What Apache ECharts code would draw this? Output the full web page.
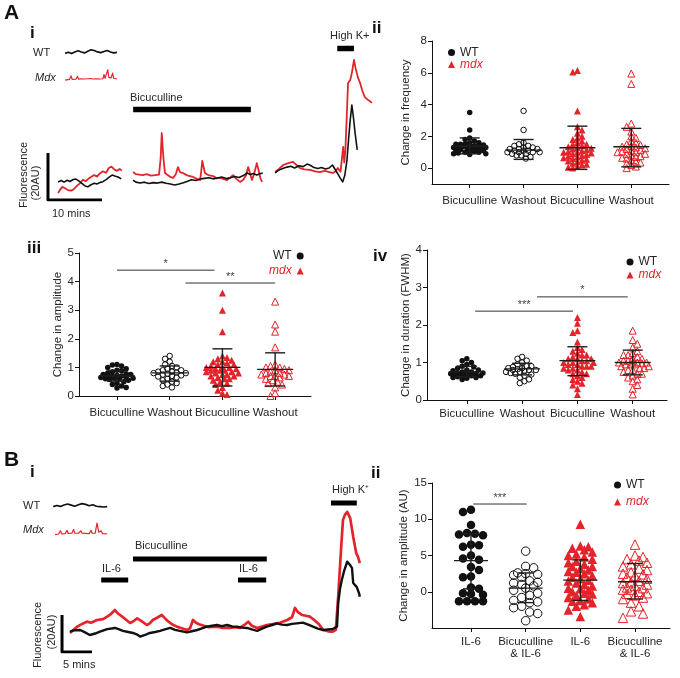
<!DOCTYPE html>
<html><head><meta charset="utf-8">
<script src="https://cdn.jsdelivr.net/npm/echarts@6/dist/echarts.min.js"></script>
<style>html,body{margin:0;padding:0;background:#fff}#c{width:680px;height:678px}</style>
</head><body><div id="c"></div>
<script>
const RED = '#e3242b', INK = '#111111', TXT = '#262626';
const FONT = "'Liberation Sans', Arial, sans-serif";

// ---------- Panel A-i traces: [time (min), fluorescence (AU)] ----------
const aiBlack1 = [[0.2,7.7],[0.8,8.3],[1.3,7.6],[1.9,8.4],[2.4,7.9],[3.0,8.7],[3.5,8.9],[4.1,8.0],[4.6,7.1],[5.2,6.0],[5.7,5.6],[6.3,6.5],[6.9,7.1],[7.4,6.8],[8.0,7.5],[8.5,7.8],[9.1,8.7],[9.6,9.6],[10.2,10.6],[10.7,10.2],[11.3,9.8],[11.9,9.0]];
const aiRed1 = [[0.2,3.0],[0.6,4.5],[1.0,5.6],[1.5,5.0],[2.0,4.2],[2.6,4.0],[3.1,4.6],[3.7,6.0],[4.3,7.2],[4.8,8.6],[5.3,8.0],[5.8,9.0],[6.3,9.8],[6.9,10.6],[7.4,10.0],[8.0,11.4],[8.5,12.2],[9.1,11.6],[9.6,13.6],[10.1,14.2],[10.6,13.0],[11.1,12.4],[11.6,13.2],[12.0,12.6]];
const aiBlack2 = [[14.1,8.5],[14.6,7.6],[15.4,7.2],[16.2,7.6],[17.0,7.0],[17.8,7.4],[18.6,7.2],[19.4,7.6],[20.2,7.1],[21.0,6.8],[21.8,6.4],[22.6,6.8],[23.4,7.3],[24.2,8.0],[24.9,8.6],[25.7,8.3],[26.5,8.9],[27.3,9.2],[28.1,9.5],[28.9,9.0],[29.7,9.4],[30.5,9.8],[31.3,9.1],[32.1,9.5],[32.9,10.0],[33.7,9.6],[34.5,10.4],[35.2,11.5],[35.8,10.8],[36.4,11.3],[37.0,10.6],[37.6,11.2],[38.1,11.5]];
const aiRed2 = [[14.1,11.9],[14.6,11.0],[15.2,10.8],[15.9,10.6],[16.6,11.0],[17.4,10.4],[18.2,10.6],[18.9,10.8],[19.2,18.0],[19.4,28.5],[19.7,18.0],[20.0,11.5],[20.5,10.6],[21.0,9.8],[21.5,9.4],[22.0,11.0],[22.4,14.0],[22.8,11.8],[23.3,11.5],[24.0,10.6],[24.6,10.2],[25.2,9.8],[25.9,9.0],[26.5,8.5],[26.7,12.0],[26.9,16.6],[27.2,13.5],[27.4,11.5],[28.0,10.6],[28.9,10.2],[29.6,9.2],[30.2,9.4],[30.9,8.9],[31.5,8.5],[32.1,9.6],[32.6,10.6],[33.2,9.0],[33.9,7.7],[34.5,8.6],[35.0,10.5],[35.4,14.0],[35.8,11.0],[36.1,8.5],[36.5,11.0],[37.0,15.7],[37.4,12.0],[37.7,9.0],[38.0,7.7]];
const aiBlack3 = [[40.4,11.5],[41.0,12.6],[41.8,13.4],[42.6,14.0],[43.3,14.4],[44.0,13.6],[44.8,14.6],[45.6,14.2],[46.3,15.3],[46.9,14.8],[47.6,13.8],[48.3,13.4],[49.0,13.8],[49.7,13.2],[50.4,13.6],[51.0,14.9],[51.4,13.4],[51.9,11.5],[52.4,9.5],[52.9,7.7],[53.3,10.5],[53.7,17.0],[54.0,26.0],[54.3,34.0],[54.6,40.4],[54.9,35.0],[55.2,28.5],[55.6,21.3]];
const aiRed3 = [[40.4,11.9],[41.0,13.0],[41.9,14.9],[42.7,15.6],[43.7,16.2],[44.4,14.8],[45.0,13.6],[45.8,13.0],[46.9,12.8],[47.8,12.2],[48.7,11.9],[49.6,12.4],[50.6,11.8],[51.1,11.5],[51.6,12.2],[52.0,13.6],[52.5,12.0],[52.8,12.4],[53.0,22.6],[53.2,16.0],[53.4,21.0],[53.7,38.0],[53.9,49.8],[54.3,51.0],[54.6,54.0],[55.0,59.6],[55.3,56.0],[55.7,52.3],[56.1,50.0],[56.5,46.8],[57.0,43.8],[57.3,44.5],[57.6,42.6],[58.0,42.0],[58.3,41.3]];
const aiWTSample = [[1.5,62.4],[2.1,62.9],[2.7,62.3],[3.3,63.0],[3.9,63.5],[4.5,63.0],[5.1,62.6],[5.7,63.3],[6.3,63.9],[6.9,63.6],[7.5,63.0],[8.1,62.7],[8.7,63.2],[9.3,63.6],[9.9,63.0],[10.5,62.6],[11.1,62.8]];
const aiMdxSample = [[1.5,51.0],[2.3,51.3],[2.6,52.8],[2.8,51.3],[3.5,51.4],[3.8,52.6],[4.0,51.4],[4.6,51.6],[4.8,52.4],[5.0,51.5],[5.7,51.6],[6.3,51.7],[6.5,52.3],[6.7,51.5],[7.4,51.6],[8.0,51.5],[8.5,51.6],[8.7,53.4],[8.9,51.8],[9.2,51.9],[9.4,55.4],[9.6,52.2],[10.0,51.9],[10.3,54.0],[10.5,51.8],[11.1,51.5]];
const aiBicBar = [[14.1,38.5],[35.9,38.5]];
const aiHighKBar = [[51.9,64.5],[55.0,64.5]];
const aiScaleBar = [[-1.67,20],[-1.67,0],[8.33,0]];   // 20 AU, 10 min

// ---------- Panel B-i traces ----------
const biBlack = [[0,11.0],[0.8,11.8],[1.7,11.9],[2.5,10.6],[3.3,9.2],[4.2,10.0],[5.0,11.0],[6.2,12.4],[7.5,13.0],[8.2,12.2],[8.8,11.4],[9.7,10.8],[10.5,10.3],[11.2,9.4],[11.7,8.3],[12.5,9.2],[13.3,10.3],[14.2,10.8],[15.0,11.4],[15.8,12.2],[16.7,13.0],[17.5,12.0],[18.3,11.4],[19.5,10.6],[20.3,11.2],[21.2,11.9],[22.0,12.8],[22.8,13.7],[23.7,14.2],[24.5,14.6],[25.3,14.0],[26.2,14.6],[27.0,13.8],[27.8,13.7],[28.7,13.2],[29.5,13.0],[30.3,12.2],[31.2,11.4],[32.0,12.6],[32.8,13.7],[33.7,14.6],[34.5,15.5],[35.3,14.8],[36.2,14.6],[37.0,15.2],[37.8,15.5],[38.8,15.9],[39.7,14.8],[40.5,13.7],[41.3,12.6],[42.2,11.9],[43.0,12.2],[43.8,12.4],[44.5,13.7],[44.7,26.5],[45.0,34.0],[45.3,38.9],[45.7,44.0],[46.2,48.8],[46.7,47.0],[47.0,45.4],[47.2,37.3],[47.5,37.8],[47.8,35.1],[48.2,31.5],[48.3,29.9]];
const biRed = [[0,10.3],[0.6,12.0],[1.2,13.7],[1.8,14.8],[2.8,16.4],[3.5,15.8],[4.5,17.3],[5.5,17.8],[6.2,19.1],[6.8,20.5],[7.5,22.7],[8.0,20.8],[8.7,19.1],[9.3,17.6],[10.0,15.7],[10.5,16.5],[11.2,18.2],[11.8,17.0],[12.3,15.8],[12.8,14.6],[13.3,15.5],[13.8,17.3],[14.5,18.5],[15.3,20.0],[15.8,18.3],[16.2,17.0],[17.0,15.0],[17.8,13.7],[18.5,13.0],[19.5,11.9],[20.0,12.8],[20.5,17.3],[21.0,15.8],[21.5,15.0],[22.3,14.2],[23.0,13.5],[24.5,13.7],[25.5,13.0],[26.7,13.0],[27.5,13.4],[28.3,13.0],[29.0,14.5],[29.7,16.4],[30.3,14.2],[31.2,13.0],[32.0,13.8],[32.8,14.6],[34.0,15.2],[35.0,15.8],[36.2,17.3],[37.0,18.8],[37.5,23.8],[38.0,21.5],[38.7,20.0],[39.3,19.6],[40.0,19.1],[40.8,17.0],[41.5,15.0],[42.2,11.9],[43.0,11.2],[43.8,11.0],[44.3,12.0],[44.7,29.9],[45.2,56.9],[45.5,71.4],[45.8,74.0],[46.2,75.8],[46.7,72.4],[47.2,62.3],[47.7,53.5],[48.0,51.5],[48.3,48.1]];
const biWTSample = [[-2.8,78.6],[-2.2,79.2],[-1.6,78.7],[-1.0,79.5],[-0.4,80.0],[0.2,79.4],[0.8,78.8],[1.4,79.6],[2.0,80.2],[2.6,79.8],[3.2,79.1],[3.8,79.6],[4.4,78.8],[5.0,78.6],[5.6,78.4],[6.2,78.6]];
const biMdxSample = [[-2.5,63.5],[-1.9,63.8],[-1.6,65.6],[-1.4,63.9],[-0.8,64.0],[-0.5,65.8],[-0.3,64.1],[0.3,64.2],[0.6,66.2],[0.8,64.3],[1.4,64.2],[1.8,65.5],[2.0,64.3],[2.6,64.1],[3.2,64.0],[3.5,65.8],[3.7,64.2],[4.2,64.3],[4.5,69.7],[4.8,64.8],[5.2,65.5],[5.4,64.0],[6.2,63.8]];
const biBicBar = [[10.5,50.3],[32.8,50.3]];
const biIL6Bar1 = [[5.2,38.9],[9.7,38.9]];
const biIL6Bar2 = [[28.0,38.9],[32.7,38.9]];
const biHighKBar = [[43.5,80.5],[47.8,80.5]];
const biScaleBar = [[-1.33,20],[-1.33,0],[3.67,0]];   // 20 AU, 5 min

// ---------- Scatter panels ----------
const catA = ['Bicuculline','Washout','Bicuculline','Washout'];
const catB = ['IL-6','Bicuculline\n& IL-6','IL-6','Bicuculline\n& IL-6'];

const freqWTBic = [3.5,2.4,1.9,1.8,1.7,1.6,1.6,1.5,1.5,1.5,1.45,1.4,1.4,1.4,1.35,1.3,1.3,1.3,1.25,1.2,1.2,1.2,1.15,1.1,1.1,1.1,1.05,1.0,1.0,0.95,0.9,0.9,0.85];
const freqWTWash = [3.6,2.4,1.6,1.5,1.4,1.3,1.3,1.2,1.2,1.1,1.1,1.1,1.0,1.0,1.0,0.9,0.9,0.8,0.8,0.7,0.6,1.2,1.4,1.0];
const freqMdxBic = [6.15,6.05,3.6,2.6,2.4,2.2,2.0,1.9,1.8,1.7,1.6,1.5,1.4,1.35,1.3,1.25,1.2,1.1,1.0,1.0,0.95,0.9,0.85,0.8,0.75,0.7,0.6,0.55,0.5,0.4,0.3,0.25,0.2,0.1,0.05,0.0,1.5,1.15,0.65,1.05,0.45];
const freqMdxWash = [5.95,5.3,2.8,2.6,2.3,2.0,1.9,1.7,1.6,1.5,1.4,1.35,1.3,1.2,1.15,1.1,1.0,1.0,0.9,0.9,0.8,0.7,0.65,0.6,0.5,0.4,0.35,0.3,0.2,0.1,0.0,1.05,1.25,0.75,1.45];
const freqStats = [[1.38,0.9,1.9],[1.13,0.55,1.8],[1.28,-0.08,2.64],[1.34,0.08,2.5]];  // mean, low, high

const ampWTBic = [1.1,1.08,1.05,1.0,0.95,0.9,0.88,0.85,0.8,0.78,0.75,0.72,0.7,0.7,0.68,0.65,0.65,0.62,0.6,0.6,0.58,0.55,0.5,0.45,0.4,0.35,0.3,0.28,0.75,0.62];
const ampWTWash = [1.4,1.3,1.2,1.1,1.05,1.0,0.95,0.9,0.85,0.82,0.8,0.78,0.75,0.72,0.7,0.68,0.65,0.6,0.55,0.5,0.45,0.4,0.35,0.3,0.8,0.85,0.9];
const ampMdxBic = [3.6,3.0,2.25,1.4,1.35,1.3,1.25,1.2,1.15,1.1,1.05,1.0,1.0,0.95,0.9,0.9,0.85,0.85,0.8,0.8,0.75,0.7,0.7,0.65,0.6,0.55,0.5,0.45,0.4,0.3,0.2,0.1,0.05,1.1,0.95,0.75,1.2,0.6,0.9,1.0];
const ampMdxWash = [3.3,2.5,2.25,1.7,1.1,1.05,1.0,1.0,0.95,0.9,0.85,0.8,0.75,0.7,0.7,0.7,0.65,0.6,0.55,0.5,0.45,0.4,0.3,0.1,0.0,0.8,0.9,0.75];
const ampStats = [[0.7,0.52,0.88],[0.81,0.52,1.05],[1.0,0.35,1.65],[0.93,0.35,1.51]];
const ampSig = [[0,1.85,4.4],[1.3,3.0,3.95]];
const ampSigText = ['*','**'];

const durWTBic = [1.1,1.05,1.0,0.95,0.9,0.88,0.85,0.8,0.78,0.75,0.72,0.7,0.7,0.68,0.68,0.65,0.65,0.62,0.6,0.6,0.58,0.55,0.75,0.72,0.7,0.8,0.65];
const durWTWash = [1.15,1.1,1.05,1.0,0.95,0.9,0.88,0.85,0.82,0.8,0.8,0.78,0.75,0.72,0.7,0.68,0.65,0.6,0.55,0.5,0.45,0.8,0.85,0.75,0.9];
const durMdxBic = [2.2,2.05,1.85,1.8,1.55,1.4,1.35,1.3,1.25,1.2,1.15,1.1,1.1,1.05,1.0,1.0,0.95,0.95,0.9,0.9,0.85,0.85,0.8,0.75,0.7,0.65,0.6,0.55,0.5,0.45,0.4,0.3,0.15,1.0,1.2,0.9,1.05,0.8,1.1,0.7];
const durMdxWash = [1.85,1.6,1.5,1.4,1.3,1.25,1.2,1.15,1.1,1.05,1.0,1.0,1.0,0.98,0.95,0.95,0.9,0.9,0.85,0.8,0.75,0.7,0.65,0.6,0.55,0.5,0.4,0.3,0.15,1.05,0.95,1.1,0.85,1.0,1.2,0.7,0.8];
const durStats = [[0.75,0.62,0.9],[0.83,0.67,0.98],[1.05,0.65,1.42],[1.0,0.67,1.33]];
const durSig = [[0.15,1.92,2.37],[1.27,2.91,2.75]];
const durSigText = ['***','*'];

const il6WT = [11.3,11.0,9.2,8.0,7.9,8.1,7.8,6.5,6.2,6.4,5.0,4.6,4.4,3.4,2.1,2.0,0.6,0.4,-0.3,-0.2,-0.4,-1.3,-1.3,-1.3,-1.3,3.0];
const il6WTBic = [5.6,3.5,3.3,2.6,2.5,2.4,2.3,2.0,1.5,1.3,1.2,1.0,0.8,0.5,0.2,-0.2,-0.5,-0.8,-1.2,-1.4,-1.5,-2.0,-2.2,-2.8,-3.0,-4.0];
const il6Mdx = [9.3,6.3,6.2,6.0,5.8,5.5,5.2,4.8,4.5,4.2,4.0,3.8,3.5,3.2,3.0,2.8,2.5,2.2,2.0,1.8,1.5,1.2,1.0,0.8,0.5,0.2,0.0,-0.2,-0.5,-0.8,-1.0,-1.2,-1.3,-1.5,-1.8,-2.0,-2.5,-3.4,1.6,3.5,0.4,-0.3,2.7,5.0];
const il6MdxBic = [6.5,5.0,4.8,4.5,4.3,4.0,3.8,3.5,3.2,3.0,2.7,2.5,2.2,2.0,1.8,1.5,1.2,1.0,0.8,0.5,0.3,0.0,-0.2,-0.5,-0.8,-1.0,-1.5,-2.0,-2.7,-3.0,-3.6,0.3,1.3,-0.3,2.4,0.6];
const il6Stats = [[4.3,0.4,8.0],[0.5,-1.5,2.6],[1.6,-1.2,4.4],[1.38,-1.0,3.9]];
const il6Sig = [[0.04,1.02,12.1]];
const il6SigText = ['***'];

// ---------- layout ----------
const G = [
  {left:46.2, top:35.5, width:334.8, height:164.5, x:[-2,60], y:[0,70]},
  {left:432, top:41, width:237, height:143, x:[-0.7,3.7], y:[-1,8]},
  {left:79, top:253, width:232, height:143, x:[-0.72,3.68], y:[0,5]},
  {left:427, top:250, width:240, height:150, x:[-0.72,3.62], y:[0,4]},
  {left:52, top:480, width:318, height:172, x:[-3,50], y:[0,93]},
  {left:432, top:483, width:238, height:145, x:[-0.713,3.64], y:[-5,15]}
];

function swarm(vals, pxX, pxY, d, maxW){
  const order = vals.map((v,i)=>i).sort((a,b)=>vals[b]-vals[a]);
  const placed = []; const out = new Array(vals.length);
  const step = d/2; let flip = 1;
  for (const i of order){
    const y = vals[i]*pxY;
    let best = null, fb = 0, fbScore = -1;
    for (let k=0; k*step<=maxW && best===null; k++){
      const cands = k===0 ? [0] : [flip*k*step, -flip*k*step];
      for (const s of cands){
        let m = Infinity;
        for (const p of placed){ const dd = Math.hypot(p[0]-s, p[1]-y); if (dd<m) m=dd; }
        if (m >= d){ best = s; break; }
        if (m > fbScore){ fbScore = m; fb = s; }
      }
    }
    if (best===null) best = fb;
    flip = -flip;
    placed.push([best,y]);
    out[i] = best/pxX;
  }
  return out;
}

const styles = [
  {symbol:'circle', color:INK, border:INK, bw:0, legend:'WT'},
  {symbol:'circle', color:'rgba(255,255,255,0)', border:INK, bw:1},
  {symbol:'triangle', color:RED, border:RED, bw:0, legend:'mdx'},
  {symbol:'triangle', color:'rgba(255,255,255,0)', border:RED, bw:1}
];

const panels = [
  {gi:1, sets:[freqWTBic,freqWTWash,freqMdxBic,freqMdxWash], stats:freqStats, cats:catA, yt:[0,2,4,6,8], name:'Change in frequency', gap:20, lm:11, big:false},
  {gi:2, sets:[ampWTBic,ampWTWash,ampMdxBic,ampMdxWash], stats:ampStats, cats:catA, yt:[0,1,2,3,4,5], name:'Change in amplitude', gap:14, lm:11, big:false, sig:ampSig, sigT:ampSigText},
  {gi:3, sets:[durWTBic,durWTWash,durMdxBic,durMdxWash], stats:durStats, cats:catA, yt:[0,1,2,3,4], name:'Change in duration (FWHM)', gap:14, lm:8, big:false, sig:durSig, sigT:durSigText},
  {gi:5, sets:[il6WT,il6WTBic,il6Mdx,il6MdxBic], stats:il6Stats, cats:catB, yt:[0,5,10,15], name:'Change in amplitude (AU)', gap:20, lm:8, big:true, sig:il6Sig, sigT:il6SigText}
];

const grid = G.map(g=>({left:g.left, top:g.top, width:g.width, height:g.height}));
const xAxis = [], yAxis = [];
G.forEach((g,i)=>{
  xAxis.push({type:'value', gridIndex:i, min:g.x[0], max:g.x[1], show:false});
  yAxis.push({type:'value', gridIndex:i, min:g.y[0], max:g.y[1], show:false});
});
const axisLine = {show:true, onZero:false, lineStyle:{color:INK, width:1}};
panels.forEach(p=>{
  const g = G[p.gi];
  xAxis[p.gi] = {type:'value', gridIndex:p.gi, min:g.x[0], max:g.x[1], splitLine:{show:false}, axisLine,
    axisTick:{show:true, customValues:[0,1,2,3], length:4, lineStyle:{color:INK}},
    axisLabel:{customValues:[0,1,2,3], formatter:v=>p.cats[Math.round(v)], color:TXT, fontSize:11.5, fontFamily:FONT, margin:p.lm, lineHeight:12}};
  yAxis[p.gi] = {type:'value', gridIndex:p.gi, min:g.y[0], max:g.y[1], splitLine:{show:false}, axisLine,
    axisTick:{show:true, customValues:p.yt, length:4, lineStyle:{color:INK}},
    axisLabel:{customValues:p.yt, color:TXT, fontSize:11.5, fontFamily:FONT, margin:5},
    name:p.name, nameLocation:'middle', nameGap:p.gap, nameTextStyle:{color:TXT, fontSize:11.5, fontFamily:FONT}};
});

const series = [];
function line(gi, data, color, width){
  series.push({type:'line', xAxisIndex:gi, yAxisIndex:gi, data, symbol:'none', silent:true,
    lineStyle:{color, width, join:'round'}, z:2});
}
// A-i
[aiRed1,aiRed2,aiRed3].forEach(d=>line(0,d,RED,1.8));
[aiBlack1,aiBlack2,aiBlack3].forEach(d=>line(0,d,INK,1.6));
line(0,aiWTSample,INK,1.7); line(0,aiMdxSample,RED,1.2);
line(0,aiBicBar,'#000',5.5); line(0,aiHighKBar,'#000',5.5);
line(0,aiScaleBar,'#000',3);
// B-i
line(4,biRed,RED,2.7); line(4,biBlack,INK,2.4);
line(4,biWTSample,INK,1.7); line(4,biMdxSample,RED,1.2);
[biBicBar,biIL6Bar1,biIL6Bar2,biHighKBar].forEach(d=>line(4,d,'#000',5));
line(4,biScaleBar,'#000',3);

// scatter panels
const legends = [];
panels.forEach((p,pi)=>{
  const g = G[p.gi];
  const pxX = g.width/(g.x[1]-g.x[0]), pxY = g.height/(g.y[1]-g.y[0]);
  const d = p.big ? 8 : 4.6, maxW = p.big ? 15 : 17;
  p.sets.forEach((vals,k)=>{
    const st = styles[k];
    const off = swarm(vals, pxX, pxY, d, maxW);
    const size = st.symbol==='circle' ? (p.big?8.5:5.5) : (p.big?9.5:7);
    series.push({type:'scatter', name: st.legend ? st.legend+'|'+pi : undefined,
      xAxisIndex:p.gi, yAxisIndex:p.gi, symbol:st.symbol, symbolSize:size, silent:true,
      data: vals.map((v,j)=>[k+off[j], v]),
      itemStyle:{color:st.color, borderColor:st.border, borderWidth:st.bw, opacity:1}, z:3});
  });
  const W = p.big?17:18, C = p.big?8:10;
  series.push({type:'custom', xAxisIndex:p.gi, yAxisIndex:p.gi, silent:true, z:5,
    data: p.stats.map((s,i)=>[i,s[0],s[1],s[2]]),
    renderItem(params, api){
      const x = api.value(0);
      const m = api.coord([x,api.value(1)]), lo = api.coord([x,api.value(2)]), hi = api.coord([x,api.value(3)]);
      const style = {stroke:'#1e1e1e', lineWidth:1.4};
      return {type:'group', children:[
        {type:'line', shape:{x1:m[0]-W,y1:m[1],x2:m[0]+W,y2:m[1]}, style},
        {type:'line', shape:{x1:lo[0],y1:lo[1],x2:hi[0],y2:hi[1]}, style},
        {type:'line', shape:{x1:lo[0]-C,y1:lo[1],x2:lo[0]+C,y2:lo[1]}, style},
        {type:'line', shape:{x1:hi[0]-C,y1:hi[1],x2:hi[0]+C,y2:hi[1]}, style}]};
    }});
  if (p.sig){
    series.push({type:'custom', xAxisIndex:p.gi, yAxisIndex:p.gi, silent:true, z:4,
      data: p.sig, encode:{x:[0,1], y:2},
      renderItem(params, api){
        const a = api.coord([api.value(0), api.value(2)]), b = api.coord([api.value(1), api.value(2)]);
        return {type:'group', children:[
          {type:'line', shape:{x1:a[0],y1:a[1],x2:b[0],y2:b[1]}, style:{stroke:'#333', lineWidth:1}},
          {type:'text', style:{text:p.sigT[params.dataIndex], x:(a[0]+b[0])/2, y:a[1]-1, align:'center', verticalAlign:'bottom', fontSize:11, fontFamily:FONT, fill:'#444'}}]};
      }});
  }
});

const legPos = [
  {left:448, top:46.5, itemGap:0, align:'left'},
  {left:269, top:250, itemGap:3, align:'right'},
  {left:626.5, top:256, itemGap:1, align:'left'},
  {left:614, top:479, itemGap:5, align:'left'}
];
panels.forEach((p,pi)=>{
  legends.push(Object.assign({
    orient:'vertical', padding:0, itemWidth:7, itemHeight:7, selectedMode:false,
    data:[{name:'WT|'+pi, icon:'circle', textStyle:{color:TXT}},
          {name:'mdx|'+pi, icon:'triangle', textStyle:{color:RED, fontStyle:'italic'}}],
    formatter: n=>n.split('|')[0],
    textStyle:{fontSize:12, fontFamily:FONT, lineHeight:12, padding:[0,0,0,0]}
  }, legPos[pi]));
});

function T(text, x, y, o){
  return {type:'text', x, y, silent:true, rotation:(o&&o.rot)||0,
    style:Object.assign({text, fill:TXT, fontSize:11, fontFamily:FONT, align:'left', verticalAlign:'middle'}, o&&o.s)};
}
const bold = s=>({s:Object.assign({fontWeight:'bold', fill:'#111'}, s)});
const graphic = [
  T('A',4,13,bold({fontSize:21})), T('i',30,33,bold({fontSize:17})), T('ii',372,28,bold({fontSize:17})),
  T('iii',27,248,bold({fontSize:17})), T('iv',373,256,bold({fontSize:17})),
  T('B',4,460,bold({fontSize:21})), T('i',30,472,bold({fontSize:17})), T('ii',371,473,bold({fontSize:17})),
  T('WT',33,53), T('Mdx',35,78,{s:{fontStyle:'italic'}}), T('Bicuculline',130,98), T('High K+',330,36),
  T('10 mins',52,214), T('Fluorescence',24,175,{rot:Math.PI/2,s:{align:'center'}}), T('(20AU)',36,183,{rot:Math.PI/2,s:{align:'center'}}),
  T('WT',23,506), T('Mdx',23,530,{s:{fontStyle:'italic'}}), T('Bicuculline',135,546), T('IL-6',102,569), T('IL-6',239,569),
  T('High K⁺',332,490), T('5 mins',63,665),
  T('Fluorescence',38,635,{rot:Math.PI/2,s:{align:'center'}}), T('(20AU)',52,632,{rot:Math.PI/2,s:{align:'center'}})
];

const chart = echarts.init(document.getElementById('c'), null, {renderer:'canvas'});
chart.setOption({backgroundColor:'#fff', animation:false, grid, xAxis, yAxis, series, legend:legends, graphic});
</script></body></html>
